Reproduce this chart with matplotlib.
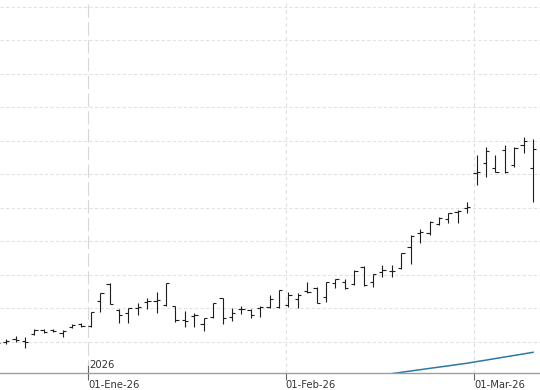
import numpy as np
import matplotlib
matplotlib.use("Agg")
import matplotlib.pyplot as plt
import matplotlib.transforms as mtransforms

# daily OHLC, 17-Dec-25 .. 10-Mar-26 (one entry per trading day)
opens = [49.81, 49.96, 50.40, 50.10, 51.15, 51.75, 51.75, 51.30, 52.19, 52.64,
         52.34, 56.15, 58.61, 54.73, 54.28, 55.03, 56.00, 56.07, 55.48, 55.33,
         53.24, 53.84, 52.64, 53.69, 56.48, 53.69, 54.81, 54.73, 54.99, 55.22,
         55.22, 55.48, 56.33, 57.57, 58.06, 56.63, 58.81, 58.96, 58.61, 61.19,
         58.96, 60.45, 60.48, 60.95, 64.09, 66.27, 66.18, 67.57, 68.27, 69.40,
         69.91, 75.13, 76.63, 75.88, 78.61, 76.37, 79.36, 75.88]
highs = [50.25, 50.40, 50.85, 50.70, 51.90, 51.90, 51.90, 51.75, 52.64, 52.75,
         54.48, 57.31, 58.69, 54.81, 54.99, 55.73, 56.48, 57.46, 58.72, 55.40,
         54.58, 54.24, 53.58, 55.73, 56.55, 54.99, 55.33, 54.88, 55.33, 56.97,
         57.72, 57.46, 57.22, 58.96, 58.12, 58.96, 59.31, 59.31, 60.70, 61.27,
         60.10, 61.45, 61.45, 63.19, 65.93, 66.78, 68.06, 68.66, 69.16, 69.66,
         70.90, 77.86, 79.01, 77.86, 79.36, 79.01, 80.51, 80.21]
lows = [49.36, 49.66, 49.96, 49.06, 51.00, 51.30, 51.45, 50.75, 52.00, 52.15,
        52.27, 54.48, 55.58, 52.75, 52.75, 53.98, 54.84, 54.28, 55.40, 52.99,
        52.24, 52.24, 51.60, 53.58, 52.60, 53.13, 54.09, 53.58, 53.73, 55.07,
        55.07, 55.22, 54.99, 57.31, 55.73, 55.97, 58.06, 57.82, 58.46, 58.31,
        58.12, 59.70, 59.70, 60.88, 61.60, 64.69, 65.93, 67.42, 67.76, 67.76,
        69.16, 73.39, 74.63, 75.28, 75.22, 76.12, 78.12, 70.90]
closes = [49.81, 50.10, 50.25, 49.96, 51.82, 51.45, 51.60, 51.67, 52.49, 52.34,
          54.48, 57.31, 55.63, 53.98, 54.96, 55.18, 56.15, 56.22, 58.72, 53.24,
          53.16, 53.98, 53.49, 55.73, 53.49, 54.28, 54.88, 53.98, 55.13, 56.33,
          57.72, 56.97, 56.97, 57.46, 55.82, 58.96, 59.31, 58.06, 60.60, 58.46,
          60.06, 60.70, 60.55, 63.19, 65.78, 66.42, 67.91, 68.42, 69.16, 69.58,
          70.15, 75.37, 78.51, 75.37, 75.37, 78.86, 80.00, 78.76]

# slow average, only visible near the bottom from bar 42 on
ma_start = 42
ma_vals = [45.24, 45.43, 45.63, 45.82, 46.02, 46.21, 46.40, 46.60,
           46.79, 47.03, 47.25, 47.49, 47.72, 47.95, 48.18, 48.42]

month_idx = [10, 31, 51]   # first bar of each month
month_labels = ['01-Ene-26', '01-Feb-26', '01-Mar-26']
year_label = '2026'

x = np.arange(len(opens))
ma_x = np.arange(ma_start, ma_start + len(ma_vals))

fig = plt.figure(figsize=(5.4, 3.9), dpi=100)
ax = fig.add_axes([0, 17 / 390, 1, 373 / 390])

ax.set_xlim(0.35, 57.74)
ax.set_ylim(45.33, 101.0)

# horizontal grid
ax.set_yticks(np.arange(50, 101, 5))
ax.yaxis.grid(True, color='#e2e2e2', lw=0.8, ls=(0, (3, 2)))
ax.tick_params(axis='y', left=False, labelleft=False)

# month separators
tpos = [i - 0.28 for i in month_idx]
ax.axvline(tpos[0], color='#d6d6d6', lw=0.8, ls=(0, (12, 4)), zorder=1)
for t in tpos[1:]:
    ax.axvline(t, color='#dedede', lw=0.8, ls=(0, (3, 3)), zorder=1)
ax.axvline(tpos[0], ymin=0, ymax=7 / 373, color='#666666', lw=0.8)

# OHLC bars
bar_col = '#1e1e1e'
ax.vlines(x, lows, highs, color=bar_col, lw=0.8, zorder=3)
ax.hlines(opens, x - 0.35, x, color=bar_col, lw=0.8, zorder=3)
ax.hlines(closes, x, x + 0.35, color=bar_col, lw=0.8, zorder=3)

ax.plot(ma_x, ma_vals, color='#2f77a3', lw=1.1, zorder=2)

# x axis
ax.set_xticks(tpos)
ax.set_xticklabels(month_labels, ha='left', fontsize=7.2, color='#333333')
ax.tick_params(axis='x', direction='out', length=5, width=0.8, color='#666666', pad=0)

trans = mtransforms.blended_transform_factory(ax.transData, ax.transAxes)
ax.text(tpos[0] + 0.1, 0.008, year_label, transform=trans, fontsize=7.2,
        color='#333333', ha='left', va='bottom')

for s in ['left', 'right', 'top']:
    ax.spines[s].set_visible(False)
ax.spines['bottom'].set_color('#a0a0a0')
ax.spines['bottom'].set_linewidth(1.0)

fig.savefig('out.png', dpi=100)
